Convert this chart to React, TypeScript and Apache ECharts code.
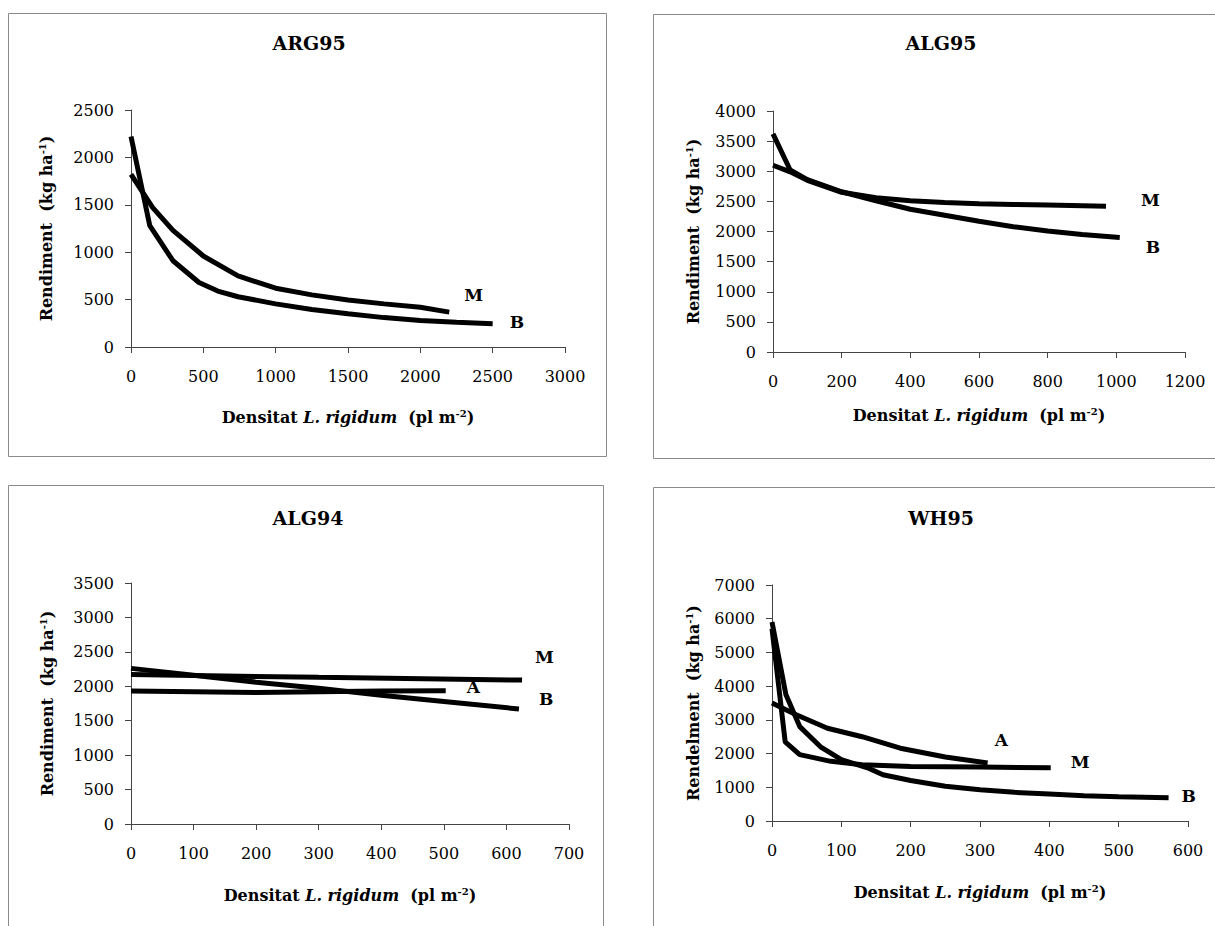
import React, { useEffect, useRef } from "react";
import * as echarts from "echarts";

const SERIF = "DejaVu Serif";

// Panel titles
const titles = ["ARG95", "ALG95", "ALG94", "WH95"];

// ARG95
const arg95BX = [0, 130, 290, 470, 600, 740, 1000, 1250, 1500, 1750, 2000, 2250, 2500];
const arg95BY = [2220, 1280, 910, 680, 590, 530, 455, 395, 350, 310, 280, 260, 245];
const arg95MX = [0, 150, 290, 500, 740, 1000, 1250, 1500, 1750, 2000, 2200];
const arg95MY = [1820, 1470, 1230, 960, 750, 620, 550, 495, 455, 420, 368];

// ALG95
const alg95BX = [0, 50, 100, 200, 300, 400, 500, 600, 700, 800, 900, 1010];
const alg95BY = [3620, 3020, 2860, 2660, 2510, 2370, 2270, 2170, 2080, 2010, 1950, 1900];
const alg95MX = [0, 50, 100, 200, 300, 400, 500, 600, 700, 800, 970];
const alg95MY = [3100, 2990, 2850, 2650, 2560, 2510, 2480, 2460, 2450, 2440, 2420];

// ALG94
const alg94BX = [0, 100, 200, 300, 400, 500, 620];
const alg94BY = [2260, 2160, 2060, 1970, 1870, 1780, 1670];
const alg94MX = [0, 300, 625];
const alg94MY = [2170, 2130, 2090];
const alg94AX = [0, 100, 200, 300, 400, 503];
const alg94AY = [1930, 1920, 1910, 1920, 1930, 1935];

// WH95
const wh95BX = [0, 20, 40, 70, 100, 140, 160, 200, 250, 300, 350, 400, 450, 500, 572];
const wh95BY = [5900, 3750, 2800, 2200, 1820, 1560, 1370, 1200, 1030, 930, 850, 800, 750, 720, 690];
const wh95MX = [0, 19, 40, 85, 130, 200, 300, 402];
const wh95MY = [5700, 2350, 1970, 1770, 1670, 1620, 1600, 1580];
const wh95AX = [0, 35, 80, 130, 185, 250, 311];
const wh95AY = [3500, 3150, 2750, 2500, 2160, 1900, 1720];

const pairs = (xs: number[], ys: number[]) => xs.map((x, i) => [x, ys[i]]);

const nameRich = {
  n: { fontFamily: SERIF, fontWeight: "bold", fontSize: 16, color: "#000", lineHeight: 19 },
  it: { fontFamily: SERIF, fontWeight: "bold", fontStyle: "italic", fontSize: 16, color: "#000", lineHeight: 19 },
  sup: { fontFamily: SERIF, fontWeight: "bold", fontSize: 10, color: "#000", verticalAlign: "top", lineHeight: 10 },
};

const axisCommon = {
  axisLine: { show: true, onZero: false, lineStyle: { color: "#444", width: 1 } },
  axisTick: { show: true, inside: false, length: 6, lineStyle: { color: "#444", width: 1 } },
  splitLine: { show: false },
};

const plain = (v: number) => String(v);

function xAxisCfg(gridIndex: number, max: number, interval: number, nameGap: number) {
  return {
    type: "value",
    gridIndex,
    min: 0,
    max,
    interval,
    name: "{n|Densitat }{it|L. rigidum}{n|  (pl m}{sup|-2}{n|)}",
    nameLocation: "middle",
    nameGap,
    nameTextStyle: { fontFamily: SERIF, rich: nameRich },
    axisLabel: { margin: 21, fontFamily: SERIF, fontSize: 16, color: "#000", formatter: plain },
    ...axisCommon,
  };
}

function yAxisCfg(gridIndex: number, max: number, interval: number, nameGap: number, word: string) {
  return {
    type: "value",
    gridIndex,
    min: 0,
    max,
    interval,
    name: "{n|" + word + "  (kg ha}{sup|-1}{n|)}",
    nameLocation: "middle",
    nameGap,
    nameTextStyle: { fontFamily: SERIF, rich: nameRich },
    axisLabel: { margin: 17, fontFamily: SERIF, fontSize: 16, color: "#000", formatter: plain },
    ...axisCommon,
  };
}

function lineSeries(idx: number, label: string, data: number[][], offset: number[]) {
  return {
    type: "line",
    xAxisIndex: idx,
    yAxisIndex: idx,
    data,
    showSymbol: false,
    symbol: "none",
    lineStyle: { color: "#000", width: 5 },
    endLabel: {
      show: true,
      formatter: label,
      offset,
      fontFamily: SERIF,
      fontWeight: "bold",
      fontSize: 17,
      color: "#000",
    },
  };
}

export default function App() {
  const ref = useRef<HTMLDivElement>(null);
  useEffect(() => {
    if (!ref.current) return;
    const chart = echarts.init(ref.current, null, { renderer: "svg" });
    const frame = (x: number, y: number, w: number, h: number) => ({
      type: "rect",
      shape: { x, y, width: w, height: h },
      style: { fill: "none", stroke: "#8a8a8a", lineWidth: 1 },
      silent: true,
    });
    const title = (text: string, x: number, y: number) => ({
      type: "text",
      x,
      y,
      style: {
        text,
        fontFamily: SERIF,
        fontWeight: "bold",
        fontSize: 19,
        fill: "#000",
        align: "center",
        verticalAlign: "middle",
      },
    });
    chart.setOption({
      animation: false,
      backgroundColor: "#fff",
      textStyle: { fontFamily: SERIF },
      grid: [
        { left: 131, top: 110, width: 434, height: 237 },
        { left: 773, top: 111, width: 412, height: 241 },
        { left: 131, top: 583, width: 438, height: 241 },
        { left: 772, top: 585, width: 416, height: 236 },
      ],
      xAxis: [
        xAxisCfg(0, 3000, 500, 61),
        xAxisCfg(1, 1200, 200, 54),
        xAxisCfg(2, 700, 100, 62),
        xAxisCfg(3, 600, 100, 62),
      ],
      yAxis: [
        yAxisCfg(0, 2500, 500, 75, "Rendiment"),
        yAxisCfg(1, 4000, 500, 70, "Rendiment"),
        yAxisCfg(2, 3500, 500, 74, "Rendiment"),
        yAxisCfg(3, 7000, 1000, 69, "Rendelment"),
      ],
      series: [
        lineSeries(0, "M", pairs(arg95MX, arg95MY), [7, -17]),
        lineSeries(0, "B", pairs(arg95BX, arg95BY), [9, -2]),
        lineSeries(1, "M", pairs(alg95MX, alg95MY), [27, -6]),
        lineSeries(1, "B", pairs(alg95BX, alg95BY), [18, 9]),
        lineSeries(2, "M", pairs(alg94MX, alg94MY), [5, -23]),
        lineSeries(2, "A", pairs(alg94AX, alg94AY), [13, -4]),
        lineSeries(2, "B", pairs(alg94BX, alg94BY), [12, -10]),
        lineSeries(3, "A", pairs(wh95AX, wh95AY), [-1, -23]),
        lineSeries(3, "M", pairs(wh95MX, wh95MY), [12, -6]),
        lineSeries(3, "B", pairs(wh95BX, wh95BY), [5, -2]),
      ],
      graphic: [
        frame(8.5, 13.5, 598, 443),
        frame(653.5, 14.5, 580, 444),
        frame(8.5, 485.5, 595, 470),
        frame(653.5, 487.5, 580, 470),
        title(titles[0], 309, 43),
        title(titles[1], 941, 43),
        title(titles[2], 308, 518),
        title(titles[3], 941, 518),
      ],
    });
    return () => chart.dispose();
  }, []);
  return (
    <div
      ref={ref}
      style={{ position: "fixed", left: 0, top: 0, width: 1215, height: 926, background: "#fff" }}
    />
  );
}
